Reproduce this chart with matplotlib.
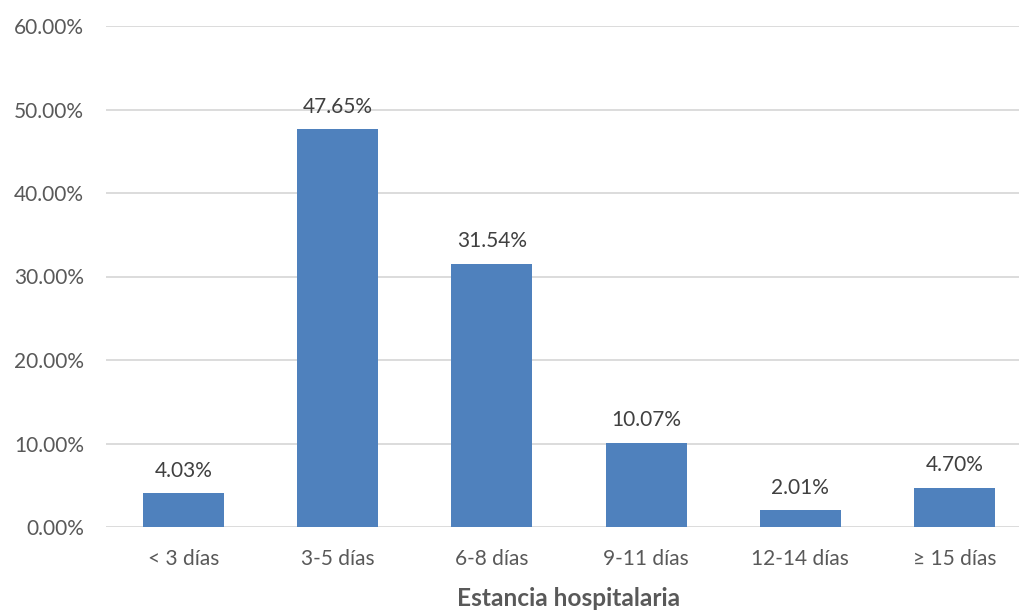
import matplotlib
matplotlib.use("Agg")
import matplotlib.pyplot as plt
from matplotlib.ticker import PercentFormatter

categories = ["< 3 días", "3-5 días", "6-8 días", "9-11 días", "12-14 días", "≥ 15 días"]
values = [4.03, 47.65, 31.54, 10.07, 2.01, 4.70]
y_ticks = [0, 10, 20, 30, 40, 50, 60]

plt.rcParams["font.family"] = ["Lato", "DejaVu Sans"]
text_color = "#595959"

W, H = 1019, 610
fig = plt.figure(figsize=(W / 100, H / 100), dpi=100)
left, right = 106.4 / W, 1031.6 / W
bottom, top = (H - 527) / H, (H - 26) / H
ax = fig.add_axes([left, bottom, right - left, top - bottom])

x = range(len(categories))
bars = ax.bar(x, values, width=0.525, color="#4F81BD", zorder=3)
for b, v in zip(bars, values):
    ax.annotate(f"{v:.2f}%", (b.get_x() + b.get_width() / 2, v),
                xytext=(0, 9), textcoords="offset points",
                ha="center", va="bottom", fontsize=15, color="#404040")

ax.set_xlim(-0.5, len(categories) - 0.5)
ax.set_ylim(0, 60)
ax.set_yticks(y_ticks)
ax.yaxis.set_major_formatter(PercentFormatter(decimals=2))
ax.set_xticks(list(x))
ax.set_xticklabels(categories)
ax.tick_params(axis="both", length=0, labelsize=15, labelcolor=text_color)
ax.tick_params(axis="x", pad=16)
ax.tick_params(axis="y", pad=16)
ax.grid(axis="y", color="#D9D9D9", linewidth=1.3, zorder=0)
for s in ax.spines.values():
    s.set_visible(False)

fig.text(569 / W, (H - 598) / H, "Estancia hospitalaria", ha="center", va="center",
         fontsize=17.6, fontweight="bold", color=text_color)

fig.savefig("out.png", dpi=100)
